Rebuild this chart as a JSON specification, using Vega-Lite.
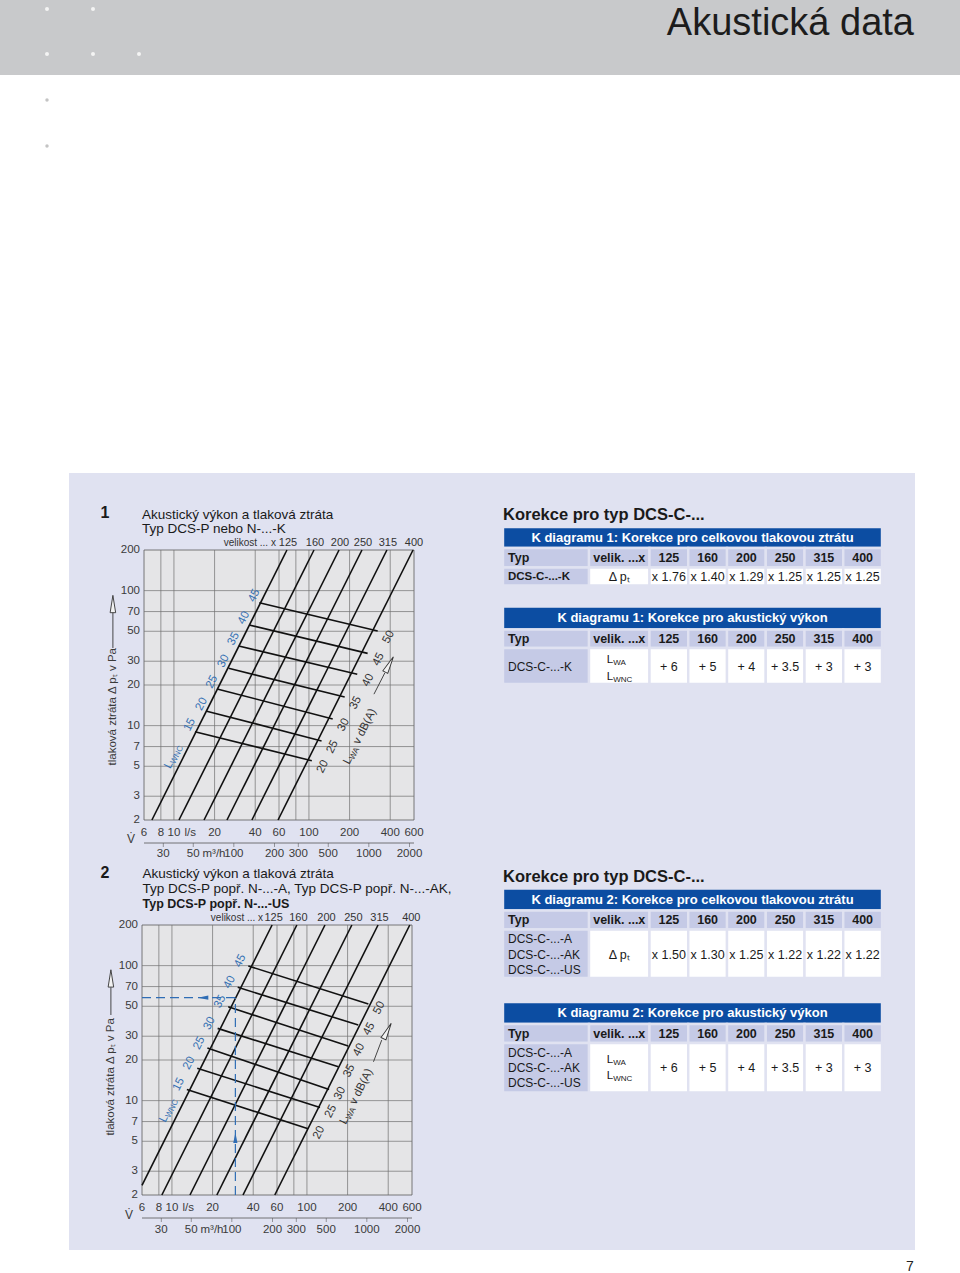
{
"$schema":"https://vega.github.io/schema/vega-lite/v6.json",
"width":960,"height":1273,"padding":0,"autosize":{"type":"none"},
"background":"#ffffff",
"config":{"font":"Liberation Sans","view":{"stroke":null}},
"datasets":{
"grid_v":[{"V":8},{"V":10},{"V":20},{"V":40},{"V":60},{"V":80},{"V":100},{"V":200},{"V":400}],
"grid_h":[{"p":3},{"p":5},{"p":7},{"p":10},{"p":20},{"p":30},{"p":50},{"p":70},{"p":100}],
"yt":[{"p":2},{"p":3},{"p":5},{"p":7},{"p":10},{"p":20},{"p":30},{"p":50},{"p":70},{"p":100},{"p":200}],
"xt1":[{"V":6},{"V":8},{"V":10},{"V":20},{"V":40},{"V":60},{"V":100},{"V":200},{"V":400},{"V":600}],
"xt2":[{"m3h":30,"V":8.333},{"m3h":50,"V":13.89},{"m3h":100,"V":27.78},{"m3h":200,"V":55.56},{"m3h":300,"V":83.33},{"m3h":500,"V":138.9},{"m3h":1000,"V":277.8},{"m3h":2000,"V":555.6}],
"n1_size":[{"size":125,"V":6.87,"p":2},{"size":125,"V":68.7,"p":200},{"size":160,"V":10.9,"p":2},{"size":160,"V":109,"p":200},{"size":200,"V":16.7,"p":2},{"size":200,"V":167,"p":200},{"size":250,"V":24.7,"p":2},{"size":250,"V":247,"p":200},{"size":315,"V":37.8,"p":2},{"size":315,"V":378,"p":200},{"size":400,"V":59,"p":2},{"size":400,"V":590,"p":200}],
"n2_size":[{"size":125,"V":6,"p":2.36},{"size":125,"V":55.2,"p":200},{"size":160,"V":8.42,"p":2},{"size":160,"V":84.2,"p":200},{"size":200,"V":13.6,"p":2},{"size":200,"V":136,"p":200},{"size":250,"V":21.5,"p":2},{"size":250,"V":215,"p":200},{"size":315,"V":33.6,"p":2},{"size":315,"V":336,"p":200},{"size":400,"V":57.8,"p":2},{"size":400,"V":578,"p":200}],
"n1_lwa":[{"L":45,"end":"L","lab":"45","V":42.9,"p":81.4},{"L":45,"end":"R","lab":"50","V":323,"p":50.2},{"L":40,"end":"L","lab":"40","V":36.0,"p":55.7},{"L":40,"end":"R","lab":"45","V":272,"p":34.3},{"L":35,"end":"L","lab":"35","V":30.2,"p":38.9},{"L":35,"end":"R","lab":"40","V":228,"p":24.0},{"L":30,"end":"L","lab":"30","V":25.4,"p":26.6},{"L":30,"end":"R","lab":"35","V":184,"p":16.3},{"L":25,"end":"L","lab":"25","V":20.9,"p":18.7},{"L":25,"end":"R","lab":"30","V":150,"p":11.2},{"L":20,"end":"L","lab":"20","V":17.5,"p":12.8},{"L":20,"end":"R","lab":"25","V":124,"p":7.7},{"L":15,"end":"L","lab":"15","V":14.3,"p":9.0},{"L":15,"end":"R","lab":"20","V":105,"p":5.5}],
"n2_lwa":[{"L":45,"end":"L","lab":"45","V":36.8,"p":99.4},{"L":45,"end":"R","lab":"50","V":285,"p":52.0},{"L":40,"end":"L","lab":"40","V":30.7,"p":69.1},{"L":40,"end":"R","lab":"45","V":240,"p":36.3},{"L":35,"end":"L","lab":"35","V":26.1,"p":49.6},{"L":35,"end":"R","lab":"40","V":202,"p":25.4},{"L":30,"end":"L","lab":"30","V":21.8,"p":34.3},{"L":30,"end":"R","lab":"35","V":171,"p":17.8},{"L":25,"end":"L","lab":"25","V":18.3,"p":24.5},{"L":25,"end":"R","lab":"30","V":146,"p":12.1},{"L":20,"end":"L","lab":"20","V":15.4,"p":17.4},{"L":20,"end":"R","lab":"25","V":125,"p":8.9},{"L":15,"end":"L","lab":"15","V":12.9,"p":12.1},{"L":15,"end":"R","lab":"20","V":102,"p":6.2}],
"n2_ex":[{"seg":"h","V":6,"p":57.9},{"seg":"h","V":29.5,"p":57.9},{"seg":"v","V":29.5,"p":2},{"seg":"v","V":29.5,"p":57.9}],
"titles":[{"id":"n1_num","text":"1"},{"id":"n1_l1","text":"Akustický výkon a tlaková ztráta"},{"id":"n1_l2","text":"Typ DCS-P nebo N-...-K"},{"id":"n2_num","text":"2"},{"id":"n2_l1","text":"Akustický výkon a tlaková ztráta"},{"id":"n2_l2","text":"Typ DCS-P popř. N-...-A, Typ DCS-P popř. N-...-AK,"},{"id":"n2_l3","text":"Typ DCS-P popř. N-...-US"},{"id":"velik","text":"velikost ... x"},{"id":"ls","text":"l/s"},{"id":"m3h","text":"m³/h"},{"id":"vdot","text":"V\u0307"},{"id":"ytitle","text":"tlaková ztráta Δ p\u209c v Pa"},{"id":"L","text":"L"},{"id":"WNC","text":"WNC"},{"id":"WA","text":"WA"},{"id":"vdba","text":"v dB(A)"},{"id":"page","text":"Akustická data"},{"id":"pnum","text":"7"}],
"cells":[
{"r0":0,"r1":1,"c0":0,"c1":8,"k":"head"},
{"r0":1,"r1":2,"c0":0,"c1":1,"k":"sub"},{"r0":1,"r1":2,"c0":1,"c1":2,"k":"sub"},{"r0":1,"r1":2,"c0":2,"c1":3,"k":"sub"},{"r0":1,"r1":2,"c0":3,"c1":4,"k":"sub"},{"r0":1,"r1":2,"c0":4,"c1":5,"k":"sub"},{"r0":1,"r1":2,"c0":5,"c1":6,"k":"sub"},{"r0":1,"r1":2,"c0":6,"c1":7,"k":"sub"},{"r0":1,"r1":2,"c0":7,"c1":8,"k":"sub"},
{"r0":2,"r1":3,"c0":0,"c1":1,"k":"sub"},{"r0":2,"r1":3,"c0":1,"c1":2,"k":"cell"},{"r0":2,"r1":3,"c0":2,"c1":3,"k":"cell"},{"r0":2,"r1":3,"c0":3,"c1":4,"k":"cell"},{"r0":2,"r1":3,"c0":4,"c1":5,"k":"cell"},{"r0":2,"r1":3,"c0":5,"c1":6,"k":"cell"},{"r0":2,"r1":3,"c0":6,"c1":7,"k":"cell"},{"r0":2,"r1":3,"c0":7,"c1":8,"k":"cell"},
{"r0":10,"r1":11,"c0":0,"c1":8,"k":"head"},
{"r0":11,"r1":12,"c0":0,"c1":1,"k":"sub"},{"r0":11,"r1":12,"c0":1,"c1":2,"k":"sub"},{"r0":11,"r1":12,"c0":2,"c1":3,"k":"sub"},{"r0":11,"r1":12,"c0":3,"c1":4,"k":"sub"},{"r0":11,"r1":12,"c0":4,"c1":5,"k":"sub"},{"r0":11,"r1":12,"c0":5,"c1":6,"k":"sub"},{"r0":11,"r1":12,"c0":6,"c1":7,"k":"sub"},{"r0":11,"r1":12,"c0":7,"c1":8,"k":"sub"},
{"r0":12,"r1":13,"c0":0,"c1":1,"k":"sub"},{"r0":12,"r1":13,"c0":1,"c1":2,"k":"cell"},{"r0":12,"r1":13,"c0":2,"c1":3,"k":"cell"},{"r0":12,"r1":13,"c0":3,"c1":4,"k":"cell"},{"r0":12,"r1":13,"c0":4,"c1":5,"k":"cell"},{"r0":12,"r1":13,"c0":5,"c1":6,"k":"cell"},{"r0":12,"r1":13,"c0":6,"c1":7,"k":"cell"},{"r0":12,"r1":13,"c0":7,"c1":8,"k":"cell"},
{"r0":20,"r1":21,"c0":0,"c1":8,"k":"head"},
{"r0":21,"r1":22,"c0":0,"c1":1,"k":"sub"},{"r0":21,"r1":22,"c0":1,"c1":2,"k":"sub"},{"r0":21,"r1":22,"c0":2,"c1":3,"k":"sub"},{"r0":21,"r1":22,"c0":3,"c1":4,"k":"sub"},{"r0":21,"r1":22,"c0":4,"c1":5,"k":"sub"},{"r0":21,"r1":22,"c0":5,"c1":6,"k":"sub"},{"r0":21,"r1":22,"c0":6,"c1":7,"k":"sub"},{"r0":21,"r1":22,"c0":7,"c1":8,"k":"sub"},
{"r0":22,"r1":23,"c0":0,"c1":1,"k":"sub"},{"r0":22,"r1":23,"c0":1,"c1":2,"k":"cell"},{"r0":22,"r1":23,"c0":2,"c1":3,"k":"cell"},{"r0":22,"r1":23,"c0":3,"c1":4,"k":"cell"},{"r0":22,"r1":23,"c0":4,"c1":5,"k":"cell"},{"r0":22,"r1":23,"c0":5,"c1":6,"k":"cell"},{"r0":22,"r1":23,"c0":6,"c1":7,"k":"cell"},{"r0":22,"r1":23,"c0":7,"c1":8,"k":"cell"},
{"r0":30,"r1":31,"c0":0,"c1":8,"k":"head"},
{"r0":31,"r1":32,"c0":0,"c1":1,"k":"sub"},{"r0":31,"r1":32,"c0":1,"c1":2,"k":"sub"},{"r0":31,"r1":32,"c0":2,"c1":3,"k":"sub"},{"r0":31,"r1":32,"c0":3,"c1":4,"k":"sub"},{"r0":31,"r1":32,"c0":4,"c1":5,"k":"sub"},{"r0":31,"r1":32,"c0":5,"c1":6,"k":"sub"},{"r0":31,"r1":32,"c0":6,"c1":7,"k":"sub"},{"r0":31,"r1":32,"c0":7,"c1":8,"k":"sub"},
{"r0":32,"r1":33,"c0":0,"c1":1,"k":"sub"},{"r0":32,"r1":33,"c0":1,"c1":2,"k":"cell"},{"r0":32,"r1":33,"c0":2,"c1":3,"k":"cell"},{"r0":32,"r1":33,"c0":3,"c1":4,"k":"cell"},{"r0":32,"r1":33,"c0":4,"c1":5,"k":"cell"},{"r0":32,"r1":33,"c0":5,"c1":6,"k":"cell"},{"r0":32,"r1":33,"c0":6,"c1":7,"k":"cell"},{"r0":32,"r1":33,"c0":7,"c1":8,"k":"cell"}],
"tbl_head":[{"r":0.5,"text":"K diagramu 1: Korekce pro celkovou tlakovou ztrátu"},{"r":10.5,"text":"K diagramu 1: Korekce pro akustický výkon"},{"r":20.5,"text":"K diagramu 2: Korekce pro celkovou tlakovou ztrátu"},{"r":30.5,"text":"K diagramu 2: Korekce pro akustický výkon"}],
"tbl_title":[{"r":-1,"text":"Korekce pro typ DCS-C-..."},{"r":19,"text":"Korekce pro typ DCS-C-..."}],
"typ_left":[{"r":1.5,"text":"Typ"},{"r":11.5,"text":"Typ"},{"r":21.5,"text":"Typ"},{"r":31.5,"text":"Typ"}],
"typ_center":[
{"r":1.5,"c":1.5,"text":"velik. ...x"},{"r":1.5,"c":2.5,"text":"125"},{"r":1.5,"c":3.5,"text":"160"},{"r":1.5,"c":4.5,"text":"200"},{"r":1.5,"c":5.5,"text":"250"},{"r":1.5,"c":6.5,"text":"315"},{"r":1.5,"c":7.5,"text":"400"},
{"r":11.5,"c":1.5,"text":"velik. ...x"},{"r":11.5,"c":2.5,"text":"125"},{"r":11.5,"c":3.5,"text":"160"},{"r":11.5,"c":4.5,"text":"200"},{"r":11.5,"c":5.5,"text":"250"},{"r":11.5,"c":6.5,"text":"315"},{"r":11.5,"c":7.5,"text":"400"},
{"r":21.5,"c":1.5,"text":"velik. ...x"},{"r":21.5,"c":2.5,"text":"125"},{"r":21.5,"c":3.5,"text":"160"},{"r":21.5,"c":4.5,"text":"200"},{"r":21.5,"c":5.5,"text":"250"},{"r":21.5,"c":6.5,"text":"315"},{"r":21.5,"c":7.5,"text":"400"},
{"r":31.5,"c":1.5,"text":"velik. ...x"},{"r":31.5,"c":2.5,"text":"125"},{"r":31.5,"c":3.5,"text":"160"},{"r":31.5,"c":4.5,"text":"200"},{"r":31.5,"c":5.5,"text":"250"},{"r":31.5,"c":6.5,"text":"315"},{"r":31.5,"c":7.5,"text":"400"}],
"left_bold":[{"r":2.5,"text":"DCS-C-...-K"}],
"left_reg":[{"r":12.52,"text":"DCS-C-...-K"},{"r":22.2,"text":"DCS-C-...-A"},{"r":22.52,"text":"DCS-C-...-AK"},{"r":22.83,"text":"DCS-C-...-US"},{"r":32.2,"text":"DCS-C-...-A"},{"r":32.51,"text":"DCS-C-...-AK"},{"r":32.8,"text":"DCS-C-...-US"}],
"center_vals":[
{"r":2.5,"c":1.5,"text":"Δ p\u209c"},{"r":2.5,"c":2.5,"text":"x 1.76"},{"r":2.5,"c":3.5,"text":"x 1.40"},{"r":2.5,"c":4.5,"text":"x 1.29"},{"r":2.5,"c":5.5,"text":"x 1.25"},{"r":2.5,"c":6.5,"text":"x 1.25"},{"r":2.5,"c":7.5,"text":"x 1.25"},
{"r":12.52,"c":2.5,"text":"+ 6"},{"r":12.52,"c":3.5,"text":"+ 5"},{"r":12.52,"c":4.5,"text":"+ 4"},{"r":12.52,"c":5.5,"text":"+ 3.5"},{"r":12.52,"c":6.5,"text":"+ 3"},{"r":12.52,"c":7.5,"text":"+ 3"},
{"r":22.52,"c":1.5,"text":"Δ p\u209c"},{"r":22.52,"c":2.5,"text":"x 1.50"},{"r":22.52,"c":3.5,"text":"x 1.30"},{"r":22.52,"c":4.5,"text":"x 1.25"},{"r":22.52,"c":5.5,"text":"x 1.22"},{"r":22.52,"c":6.5,"text":"x 1.22"},{"r":22.52,"c":7.5,"text":"x 1.22"},
{"r":32.51,"c":2.5,"text":"+ 6"},{"r":32.51,"c":3.5,"text":"+ 5"},{"r":32.51,"c":4.5,"text":"+ 4"},{"r":32.51,"c":5.5,"text":"+ 3.5"},{"r":32.51,"c":6.5,"text":"+ 3"},{"r":32.51,"c":7.5,"text":"+ 3"}],
"lsub":[{"r":12.33,"sub":"WA"},{"r":12.8,"sub":"WNC"},{"r":32.34,"sub":"WA"},{"r":32.66,"sub":"WNC"}]
},
"resolve":{"scale":{"x":"independent","y":"independent"}},
"layer":[
{"data":{"values":[{}]},"layer":[
{"mark":{"type":"rect","fill":"#c8c9cb"},"encoding":{"x":{"value":0},"x2":{"value":960},"y":{"value":0},"y2":{"value":75}}},
{"mark":{"type":"rect","fill":"#e0e2f1"},"encoding":{"x":{"value":69},"x2":{"value":915},"y":{"value":473},"y2":{"value":1250}}},
{"mark":{"type":"point","filled":true,"color":"#f4f4f4","size":16,"opacity":1},"encoding":{"x":{"value":47},"y":{"value":9}}},
{"mark":{"type":"point","filled":true,"color":"#f4f4f4","size":16,"opacity":1},"encoding":{"x":{"value":93},"y":{"value":9}}},
{"mark":{"type":"point","filled":true,"color":"#f4f4f4","size":16,"opacity":1},"encoding":{"x":{"value":47},"y":{"value":54}}},
{"mark":{"type":"point","filled":true,"color":"#f4f4f4","size":16,"opacity":1},"encoding":{"x":{"value":93},"y":{"value":54}}},
{"mark":{"type":"point","filled":true,"color":"#f4f4f4","size":16,"opacity":1},"encoding":{"x":{"value":139},"y":{"value":54}}},
{"mark":{"type":"point","filled":true,"color":"#c4c4c4","size":12,"opacity":1},"encoding":{"x":{"value":47},"y":{"value":100}}},
{"mark":{"type":"point","filled":true,"color":"#c4c4c4","size":12,"opacity":1},"encoding":{"x":{"value":47},"y":{"value":146}}}
]},
{"data":{"name":"titles"},"transform":[{"filter":"datum.id == 'page'"}],"mark":{"type":"text","fontSize":38,"color":"#1c1c1c","align":"right","baseline":"alphabetic"},"encoding":{"x":{"value":914},"y":{"value":35},"text":{"field":"text"}}},
{"data":{"name":"titles"},"transform":[{"filter":"datum.id == 'pnum'"}],"mark":{"type":"text","fontSize":14,"color":"#222222","baseline":"alphabetic"},"encoding":{"x":{"value":910},"y":{"value":1271},"text":{"field":"text"}}},
{"layer":[
{"data":{"values":[{}]},"mark":{"type":"rect","fill":"#e5e5e7","stroke":"#5c5c5c","strokeWidth":0.8},"encoding":{"x":{"datum":6,"type":"quantitative","scale":{"type":"log","domain":[6,600],"range":[144,414],"nice":false},"axis":null},"x2":{"datum":600},"y":{"datum":2,"type":"quantitative","scale":{"type":"log","domain":[2,200],"range":[820,550],"nice":false},"axis":null},"y2":{"datum":200}}},
{"data":{"name":"grid_v"},"mark":{"type":"rule","color":"#707070","strokeWidth":0.7},"encoding":{"x":{"field":"V","type":"quantitative","scale":{"type":"log","domain":[6,600],"range":[144,414],"nice":false},"axis":null},"y":{"datum":2,"type":"quantitative","scale":{"type":"log","domain":[2,200],"range":[820,550],"nice":false},"axis":null},"y2":{"datum":200}}},
{"data":{"name":"grid_h"},"mark":{"type":"rule","color":"#707070","strokeWidth":0.7},"encoding":{"y":{"field":"p","type":"quantitative","scale":{"type":"log","domain":[2,200],"range":[820,550],"nice":false},"axis":null},"x":{"datum":6,"type":"quantitative","scale":{"type":"log","domain":[6,600],"range":[144,414],"nice":false},"axis":null},"x2":{"datum":600}}},
{"data":{"name":"n1_size"},"mark":{"type":"line","color":"#111111","strokeWidth":1.6},"encoding":{"x":{"field":"V","type":"quantitative","scale":{"type":"log","domain":[6,600],"range":[144,414],"nice":false},"axis":null},"y":{"field":"p","type":"quantitative","scale":{"type":"log","domain":[2,200],"range":[820,550],"nice":false},"axis":null},"detail":{"field":"size","type":"nominal"}}},
{"data":{"name":"n1_lwa"},"mark":{"type":"line","color":"#111111","strokeWidth":1.6},"encoding":{"x":{"field":"V","type":"quantitative","scale":{"type":"log","domain":[6,600],"range":[144,414],"nice":false},"axis":null},"y":{"field":"p","type":"quantitative","scale":{"type":"log","domain":[2,200],"range":[820,550],"nice":false},"axis":null},"detail":{"field":"L","type":"nominal"}}},
{"data":{"name":"n1_size"},"transform":[{"filter":"datum.p == 200"}],"mark":{"type":"text","fontSize":11,"color":"#333333","yOffset":-7,"xOffset":1},"encoding":{"x":{"field":"V","type":"quantitative","scale":{"type":"log","domain":[6,600],"range":[144,414],"nice":false},"axis":null},"y":{"field":"p","type":"quantitative","scale":{"type":"log","domain":[2,200],"range":[820,550],"nice":false},"axis":null},"text":{"field":"size","type":"nominal"}}},
{"data":{"name":"titles"},"transform":[{"filter":"datum.id == 'velik'"}],"mark":{"type":"text","fontSize":10,"color":"#333333","align":"right","xOffset":-11,"yOffset":-7},"encoding":{"x":{"datum":68.7,"type":"quantitative","scale":{"type":"log","domain":[6,600],"range":[144,414],"nice":false},"axis":null},"y":{"datum":200,"type":"quantitative","scale":{"type":"log","domain":[2,200],"range":[820,550],"nice":false},"axis":null},"text":{"field":"text"}}},
{"data":{"name":"n1_lwa"},"transform":[{"filter":"datum.end == 'L'"}],"mark":{"type":"text","fontSize":11.5,"color":"#3470b3","angle":296.6,"xOffset":-5,"yOffset":-7},"encoding":{"x":{"field":"V","type":"quantitative","scale":{"type":"log","domain":[6,600],"range":[144,414],"nice":false},"axis":null},"y":{"field":"p","type":"quantitative","scale":{"type":"log","domain":[2,200],"range":[820,550],"nice":false},"axis":null},"text":{"field":"lab"}}},
{"data":{"name":"n1_lwa"},"transform":[{"filter":"datum.end == 'R'"}],"mark":{"type":"text","fontSize":11.5,"color":"#333333","angle":296.6,"xOffset":11,"yOffset":6},"encoding":{"x":{"field":"V","type":"quantitative","scale":{"type":"log","domain":[6,600],"range":[144,414],"nice":false},"axis":null},"y":{"field":"p","type":"quantitative","scale":{"type":"log","domain":[2,200],"range":[820,550],"nice":false},"axis":null},"text":{"field":"lab"}}},
{"data":{"name":"titles"},"transform":[{"filter":"datum.id == 'L'"}],"mark":{"type":"text","fontSize":11.5,"color":"#3470b3","angle":296.6,"align":"left","dx":-12.8},"encoding":{"x":{"datum":9.87,"type":"quantitative","scale":{"type":"log","domain":[6,600],"range":[144,414],"nice":false},"axis":null},"y":{"datum":5.9,"type":"quantitative","scale":{"type":"log","domain":[2,200],"range":[820,550],"nice":false},"axis":null},"text":{"field":"text"}}},
{"data":{"name":"titles"},"transform":[{"filter":"datum.id == 'WNC'"}],"mark":{"type":"text","fontSize":8,"color":"#3470b3","angle":296.6,"align":"left","dx":-6.4,"dy":3},"encoding":{"x":{"datum":9.87,"type":"quantitative","scale":{"type":"log","domain":[6,600],"range":[144,414],"nice":false},"axis":null},"y":{"datum":5.9,"type":"quantitative","scale":{"type":"log","domain":[2,200],"range":[820,550],"nice":false},"axis":null},"text":{"field":"text"}}},
{"data":{"name":"titles"},"transform":[{"filter":"datum.id == 'L'"}],"mark":{"type":"text","fontSize":11.5,"color":"#333333","angle":296.6,"align":"left","dx":-30.3},"encoding":{"x":{"datum":239,"type":"quantitative","scale":{"type":"log","domain":[6,600],"range":[144,414],"nice":false},"axis":null},"y":{"datum":8.3,"type":"quantitative","scale":{"type":"log","domain":[2,200],"range":[820,550],"nice":false},"axis":null},"text":{"field":"text"}}},
{"data":{"name":"titles"},"transform":[{"filter":"datum.id == 'WA'"}],"mark":{"type":"text","fontSize":8,"color":"#333333","angle":296.6,"align":"left","dx":-23.9,"dy":3},"encoding":{"x":{"datum":239,"type":"quantitative","scale":{"type":"log","domain":[6,600],"range":[144,414],"nice":false},"axis":null},"y":{"datum":8.3,"type":"quantitative","scale":{"type":"log","domain":[2,200],"range":[820,550],"nice":false},"axis":null},"text":{"field":"text"}}},
{"data":{"name":"titles"},"transform":[{"filter":"datum.id == 'vdba'"}],"mark":{"type":"text","fontSize":11.5,"color":"#333333","angle":296.6,"align":"left","dx":-8},"encoding":{"x":{"datum":239,"type":"quantitative","scale":{"type":"log","domain":[6,600],"range":[144,414],"nice":false},"axis":null},"y":{"datum":8.3,"type":"quantitative","scale":{"type":"log","domain":[2,200],"range":[820,550],"nice":false},"axis":null},"text":{"field":"text"}}},
{"data":{"values":[{}]},"mark":{"type":"rule","color":"#333333","strokeWidth":0.9},"encoding":{"x":{"datum":303,"type":"quantitative","scale":{"type":"log","domain":[6,600],"range":[144,414],"nice":false},"axis":null},"x2":{"datum":365},"y":{"datum":17.1,"type":"quantitative","scale":{"type":"log","domain":[2,200],"range":[820,550],"nice":false},"axis":null},"y2":{"datum":24.6}}},
{"data":{"values":[{}]},"mark":{"type":"point","shape":"M0,-1L0.32,1L-0.32,1Z","size":300,"filled":true,"fill":"#f2f2f2","stroke":"#333333","strokeWidth":0.9,"opacity":1,"angle":27.8},"encoding":{"x":{"datum":394,"type":"quantitative","scale":{"type":"log","domain":[6,600],"range":[144,414],"nice":false},"axis":null},"y":{"datum":28.4,"type":"quantitative","scale":{"type":"log","domain":[2,200],"range":[820,550],"nice":false},"axis":null}}},
{"data":{"name":"yt"},"mark":{"type":"text","fontSize":11.5,"color":"#3a3a3a","align":"right","xOffset":-4},"encoding":{"x":{"datum":6,"type":"quantitative","scale":{"type":"log","domain":[6,600],"range":[144,414],"nice":false},"axis":null},"y":{"field":"p","type":"quantitative","scale":{"type":"log","domain":[2,200],"range":[820,550],"nice":false},"axis":null},"text":{"field":"p","type":"quantitative","format":"d"}}},
{"data":{"name":"xt1"},"mark":{"type":"text","fontSize":11.5,"color":"#3a3a3a","yOffset":13},"encoding":{"x":{"field":"V","type":"quantitative","scale":{"type":"log","domain":[6,600],"range":[144,414],"nice":false},"axis":null},"y":{"datum":2,"type":"quantitative","scale":{"type":"log","domain":[2,200],"range":[820,550],"nice":false},"axis":null},"text":{"field":"V","type":"quantitative","format":"d"}}},
{"data":{"name":"titles"},"transform":[{"filter":"datum.id == 'ls'"}],"mark":{"type":"text","fontSize":11.5,"color":"#3a3a3a","yOffset":13},"encoding":{"x":{"datum":13.2,"type":"quantitative","scale":{"type":"log","domain":[6,600],"range":[144,414],"nice":false},"axis":null},"y":{"datum":2,"type":"quantitative","scale":{"type":"log","domain":[2,200],"range":[820,550],"nice":false},"axis":null},"text":{"field":"text"}}},
{"data":{"name":"titles"},"transform":[{"filter":"datum.id == 'vdot'"}],"mark":{"type":"text","fontSize":12,"color":"#3a3a3a","yOffset":19},"encoding":{"x":{"datum":4.8,"type":"quantitative","scale":{"type":"log","domain":[6,600],"range":[144,414],"nice":false},"axis":null},"y":{"datum":2,"type":"quantitative","scale":{"type":"log","domain":[2,200],"range":[820,550],"nice":false},"axis":null},"text":{"field":"text"}}},
{"data":{"values":[{}]},"mark":{"type":"rule","color":"#555555","strokeWidth":0.8,"yOffset":23},"encoding":{"x":{"datum":6,"type":"quantitative","scale":{"type":"log","domain":[6,600],"range":[144,414],"nice":false},"axis":null},"x2":{"datum":600},"y":{"datum":2,"type":"quantitative","scale":{"type":"log","domain":[2,200],"range":[820,550],"nice":false},"axis":null}}},
{"data":{"name":"xt2"},"mark":{"type":"tick","orient":"vertical","size":4,"thickness":0.8,"color":"#555555","yOffset":25},"encoding":{"x":{"field":"V","type":"quantitative","scale":{"type":"log","domain":[6,600],"range":[144,414],"nice":false},"axis":null},"y":{"datum":2,"type":"quantitative","scale":{"type":"log","domain":[2,200],"range":[820,550],"nice":false},"axis":null}}},
{"data":{"name":"xt2"},"mark":{"type":"text","fontSize":11.5,"color":"#3a3a3a","yOffset":34},"encoding":{"x":{"field":"V","type":"quantitative","scale":{"type":"log","domain":[6,600],"range":[144,414],"nice":false},"axis":null},"y":{"datum":2,"type":"quantitative","scale":{"type":"log","domain":[2,200],"range":[820,550],"nice":false},"axis":null},"text":{"field":"m3h","type":"quantitative","format":"d"}}},
{"data":{"name":"titles"},"transform":[{"filter":"datum.id == 'm3h'"}],"mark":{"type":"text","fontSize":11.5,"color":"#3a3a3a","yOffset":34},"encoding":{"x":{"datum":19.8,"type":"quantitative","scale":{"type":"log","domain":[6,600],"range":[144,414],"nice":false},"axis":null},"y":{"datum":2,"type":"quantitative","scale":{"type":"log","domain":[2,200],"range":[820,550],"nice":false},"axis":null},"text":{"field":"text"}}},
{"data":{"name":"titles"},"transform":[{"filter":"datum.id == 'ytitle'"}],"mark":{"type":"text","fontSize":11.5,"color":"#3a3a3a","angle":270},"encoding":{"x":{"datum":3.53,"type":"quantitative","scale":{"type":"log","domain":[6,600],"range":[144,414],"nice":false},"axis":null},"y":{"datum":13.8,"type":"quantitative","scale":{"type":"log","domain":[2,200],"range":[820,550],"nice":false},"axis":null},"text":{"field":"text"}}},
{"data":{"values":[{}]},"mark":{"type":"rule","color":"#333333","strokeWidth":0.9},"encoding":{"x":{"datum":3.53,"type":"quantitative","scale":{"type":"log","domain":[6,600],"range":[144,414],"nice":false},"axis":null},"y":{"datum":69.5,"type":"quantitative","scale":{"type":"log","domain":[2,200],"range":[820,550],"nice":false},"axis":null},"y2":{"datum":37.6}}},
{"data":{"values":[{}]},"mark":{"type":"point","shape":"M0,-1L0.32,1L-0.32,1Z","size":300,"filled":true,"fill":"#f2f2f2","stroke":"#333333","strokeWidth":0.9,"opacity":1},"encoding":{"x":{"datum":3.53,"type":"quantitative","scale":{"type":"log","domain":[6,600],"range":[144,414],"nice":false},"axis":null},"y":{"datum":79.6,"type":"quantitative","scale":{"type":"log","domain":[2,200],"range":[820,550],"nice":false},"axis":null}}},
{"data":{"name":"titles"},"transform":[{"filter":"datum.id == 'n1_num'"}],"mark":{"type":"text","fontSize":16,"fontWeight":"bold","color":"#1a1a1a","baseline":"alphabetic","xOffset":-39,"yOffset":-31.7},"encoding":{"x":{"datum":6,"type":"quantitative","scale":{"type":"log","domain":[6,600],"range":[144,414],"nice":false},"axis":null},"y":{"datum":200,"type":"quantitative","scale":{"type":"log","domain":[2,200],"range":[820,550],"nice":false},"axis":null},"text":{"field":"text"}}},
{"data":{"name":"titles"},"transform":[{"filter":"datum.id == 'n1_l1'"}],"mark":{"type":"text","fontSize":13.5,"color":"#1a1a1a","baseline":"alphabetic","align":"left","xOffset":-2,"yOffset":-31.5},"encoding":{"x":{"datum":6,"type":"quantitative","scale":{"type":"log","domain":[6,600],"range":[144,414],"nice":false},"axis":null},"y":{"datum":200,"type":"quantitative","scale":{"type":"log","domain":[2,200],"range":[820,550],"nice":false},"axis":null},"text":{"field":"text"}}},
{"data":{"name":"titles"},"transform":[{"filter":"datum.id == 'n1_l2'"}],"mark":{"type":"text","fontSize":13.5,"color":"#1a1a1a","baseline":"alphabetic","align":"left","xOffset":-2,"yOffset":-17.3},"encoding":{"x":{"datum":6,"type":"quantitative","scale":{"type":"log","domain":[6,600],"range":[144,414],"nice":false},"axis":null},"y":{"datum":200,"type":"quantitative","scale":{"type":"log","domain":[2,200],"range":[820,550],"nice":false},"axis":null},"text":{"field":"text"}}}
]},
{"layer":[
{"data":{"values":[{}]},"mark":{"type":"rect","fill":"#e5e5e7","stroke":"#5c5c5c","strokeWidth":0.8},"encoding":{"x":{"datum":6,"type":"quantitative","scale":{"type":"log","domain":[6,600],"range":[142,412],"nice":false},"axis":null},"x2":{"datum":600},"y":{"datum":2,"type":"quantitative","scale":{"type":"log","domain":[2,200],"range":[1195,925],"nice":false},"axis":null},"y2":{"datum":200}}},
{"data":{"name":"grid_v"},"mark":{"type":"rule","color":"#707070","strokeWidth":0.7},"encoding":{"x":{"field":"V","type":"quantitative","scale":{"type":"log","domain":[6,600],"range":[142,412],"nice":false},"axis":null},"y":{"datum":2,"type":"quantitative","scale":{"type":"log","domain":[2,200],"range":[1195,925],"nice":false},"axis":null},"y2":{"datum":200}}},
{"data":{"name":"grid_h"},"mark":{"type":"rule","color":"#707070","strokeWidth":0.7},"encoding":{"y":{"field":"p","type":"quantitative","scale":{"type":"log","domain":[2,200],"range":[1195,925],"nice":false},"axis":null},"x":{"datum":6,"type":"quantitative","scale":{"type":"log","domain":[6,600],"range":[142,412],"nice":false},"axis":null},"x2":{"datum":600}}},
{"data":{"name":"n2_size"},"mark":{"type":"line","color":"#111111","strokeWidth":1.6},"encoding":{"x":{"field":"V","type":"quantitative","scale":{"type":"log","domain":[6,600],"range":[142,412],"nice":false},"axis":null},"y":{"field":"p","type":"quantitative","scale":{"type":"log","domain":[2,200],"range":[1195,925],"nice":false},"axis":null},"detail":{"field":"size","type":"nominal"}}},
{"data":{"name":"n2_lwa"},"mark":{"type":"line","color":"#111111","strokeWidth":1.6},"encoding":{"x":{"field":"V","type":"quantitative","scale":{"type":"log","domain":[6,600],"range":[142,412],"nice":false},"axis":null},"y":{"field":"p","type":"quantitative","scale":{"type":"log","domain":[2,200],"range":[1195,925],"nice":false},"axis":null},"detail":{"field":"L","type":"nominal"}}},
{"data":{"name":"n2_ex"},"mark":{"type":"line","color":"#2f6db5","strokeWidth":1.2,"strokeDash":[9,5]},"encoding":{"x":{"field":"V","type":"quantitative","scale":{"type":"log","domain":[6,600],"range":[142,412],"nice":false},"axis":null},"y":{"field":"p","type":"quantitative","scale":{"type":"log","domain":[2,200],"range":[1195,925],"nice":false},"axis":null},"detail":{"field":"seg","type":"nominal"}}},
{"data":{"values":[{}]},"mark":{"type":"point","shape":"M0,-1L0.4,1L-0.4,1Z","size":110,"filled":true,"color":"#2f6db5","opacity":1,"angle":270},"encoding":{"x":{"datum":17,"type":"quantitative","scale":{"type":"log","domain":[6,600],"range":[142,412],"nice":false},"axis":null},"y":{"datum":57.9,"type":"quantitative","scale":{"type":"log","domain":[2,200],"range":[1195,925],"nice":false},"axis":null}}},
{"data":{"values":[{}]},"mark":{"type":"point","shape":"M0,-1L0.4,1L-0.4,1Z","size":110,"filled":true,"color":"#2f6db5","opacity":1},"encoding":{"x":{"datum":29.5,"type":"quantitative","scale":{"type":"log","domain":[6,600],"range":[142,412],"nice":false},"axis":null},"y":{"datum":5.3,"type":"quantitative","scale":{"type":"log","domain":[2,200],"range":[1195,925],"nice":false},"axis":null}}},
{"data":{"name":"n2_size"},"transform":[{"filter":"datum.p == 200"}],"mark":{"type":"text","fontSize":11,"color":"#333333","yOffset":-7,"xOffset":1.5},"encoding":{"x":{"field":"V","type":"quantitative","scale":{"type":"log","domain":[6,600],"range":[142,412],"nice":false},"axis":null},"y":{"field":"p","type":"quantitative","scale":{"type":"log","domain":[2,200],"range":[1195,925],"nice":false},"axis":null},"text":{"field":"size","type":"nominal"}}},
{"data":{"name":"titles"},"transform":[{"filter":"datum.id == 'velik'"}],"mark":{"type":"text","fontSize":10,"color":"#333333","align":"right","xOffset":-9,"yOffset":-7},"encoding":{"x":{"datum":55.2,"type":"quantitative","scale":{"type":"log","domain":[6,600],"range":[142,412],"nice":false},"axis":null},"y":{"datum":200,"type":"quantitative","scale":{"type":"log","domain":[2,200],"range":[1195,925],"nice":false},"axis":null},"text":{"field":"text"}}},
{"data":{"name":"n2_lwa"},"transform":[{"filter":"datum.end == 'L'"}],"mark":{"type":"text","fontSize":11.5,"color":"#3470b3","angle":296.6,"xOffset":-8,"yOffset":-5},"encoding":{"x":{"field":"V","type":"quantitative","scale":{"type":"log","domain":[6,600],"range":[142,412],"nice":false},"axis":null},"y":{"field":"p","type":"quantitative","scale":{"type":"log","domain":[2,200],"range":[1195,925],"nice":false},"axis":null},"text":{"field":"lab"}}},
{"data":{"name":"n2_lwa"},"transform":[{"filter":"datum.end == 'R'"}],"mark":{"type":"text","fontSize":11.5,"color":"#333333","angle":296.6,"xOffset":11,"yOffset":4},"encoding":{"x":{"field":"V","type":"quantitative","scale":{"type":"log","domain":[6,600],"range":[142,412],"nice":false},"axis":null},"y":{"field":"p","type":"quantitative","scale":{"type":"log","domain":[2,200],"range":[1195,925],"nice":false},"axis":null},"text":{"field":"lab"}}},
{"data":{"name":"titles"},"transform":[{"filter":"datum.id == 'L'"}],"mark":{"type":"text","fontSize":11.5,"color":"#3470b3","angle":296.6,"align":"left","dx":-12.8},"encoding":{"x":{"datum":9.39,"type":"quantitative","scale":{"type":"log","domain":[6,600],"range":[142,412],"nice":false},"axis":null},"y":{"datum":8.5,"type":"quantitative","scale":{"type":"log","domain":[2,200],"range":[1195,925],"nice":false},"axis":null},"text":{"field":"text"}}},
{"data":{"name":"titles"},"transform":[{"filter":"datum.id == 'WNC'"}],"mark":{"type":"text","fontSize":8,"color":"#3470b3","angle":296.6,"align":"left","dx":-6.4,"dy":3},"encoding":{"x":{"datum":9.39,"type":"quantitative","scale":{"type":"log","domain":[6,600],"range":[142,412],"nice":false},"axis":null},"y":{"datum":8.5,"type":"quantitative","scale":{"type":"log","domain":[2,200],"range":[1195,925],"nice":false},"axis":null},"text":{"field":"text"}}},
{"data":{"name":"titles"},"transform":[{"filter":"datum.id == 'L'"}],"mark":{"type":"text","fontSize":11.5,"color":"#333333","angle":296.6,"align":"left","dx":-30.3},"encoding":{"x":{"datum":233,"type":"quantitative","scale":{"type":"log","domain":[6,600],"range":[142,412],"nice":false},"axis":null},"y":{"datum":10.7,"type":"quantitative","scale":{"type":"log","domain":[2,200],"range":[1195,925],"nice":false},"axis":null},"text":{"field":"text"}}},
{"data":{"name":"titles"},"transform":[{"filter":"datum.id == 'WA'"}],"mark":{"type":"text","fontSize":8,"color":"#333333","angle":296.6,"align":"left","dx":-23.9,"dy":3},"encoding":{"x":{"datum":233,"type":"quantitative","scale":{"type":"log","domain":[6,600],"range":[142,412],"nice":false},"axis":null},"y":{"datum":10.7,"type":"quantitative","scale":{"type":"log","domain":[2,200],"range":[1195,925],"nice":false},"axis":null},"text":{"field":"text"}}},
{"data":{"name":"titles"},"transform":[{"filter":"datum.id == 'vdba'"}],"mark":{"type":"text","fontSize":11.5,"color":"#333333","angle":296.6,"align":"left","dx":-8},"encoding":{"x":{"datum":233,"type":"quantitative","scale":{"type":"log","domain":[6,600],"range":[142,412],"nice":false},"axis":null},"y":{"datum":10.7,"type":"quantitative","scale":{"type":"log","domain":[2,200],"range":[1195,925],"nice":false},"axis":null},"text":{"field":"text"}}},
{"data":{"values":[{}]},"mark":{"type":"rule","color":"#333333","strokeWidth":0.9},"encoding":{"x":{"datum":311,"type":"quantitative","scale":{"type":"log","domain":[6,600],"range":[142,412],"nice":false},"axis":null},"x2":{"datum":358},"y":{"datum":19.4,"type":"quantitative","scale":{"type":"log","domain":[2,200],"range":[1195,925],"nice":false},"axis":null},"y2":{"datum":28.1}}},
{"data":{"values":[{}]},"mark":{"type":"point","shape":"M0,-1L0.32,1L-0.32,1Z","size":300,"filled":true,"fill":"#f2f2f2","stroke":"#333333","strokeWidth":0.9,"opacity":1,"angle":26.6},"encoding":{"x":{"datum":394,"type":"quantitative","scale":{"type":"log","domain":[6,600],"range":[142,412],"nice":false},"axis":null},"y":{"datum":32.8,"type":"quantitative","scale":{"type":"log","domain":[2,200],"range":[1195,925],"nice":false},"axis":null}}},
{"data":{"name":"yt"},"mark":{"type":"text","fontSize":11.5,"color":"#3a3a3a","align":"right","xOffset":-4},"encoding":{"x":{"datum":6,"type":"quantitative","scale":{"type":"log","domain":[6,600],"range":[142,412],"nice":false},"axis":null},"y":{"field":"p","type":"quantitative","scale":{"type":"log","domain":[2,200],"range":[1195,925],"nice":false},"axis":null},"text":{"field":"p","type":"quantitative","format":"d"}}},
{"data":{"name":"xt1"},"mark":{"type":"text","fontSize":11.5,"color":"#3a3a3a","yOffset":13},"encoding":{"x":{"field":"V","type":"quantitative","scale":{"type":"log","domain":[6,600],"range":[142,412],"nice":false},"axis":null},"y":{"datum":2,"type":"quantitative","scale":{"type":"log","domain":[2,200],"range":[1195,925],"nice":false},"axis":null},"text":{"field":"V","type":"quantitative","format":"d"}}},
{"data":{"name":"titles"},"transform":[{"filter":"datum.id == 'ls'"}],"mark":{"type":"text","fontSize":11.5,"color":"#3a3a3a","yOffset":13},"encoding":{"x":{"datum":13.2,"type":"quantitative","scale":{"type":"log","domain":[6,600],"range":[142,412],"nice":false},"axis":null},"y":{"datum":2,"type":"quantitative","scale":{"type":"log","domain":[2,200],"range":[1195,925],"nice":false},"axis":null},"text":{"field":"text"}}},
{"data":{"name":"titles"},"transform":[{"filter":"datum.id == 'vdot'"}],"mark":{"type":"text","fontSize":12,"color":"#3a3a3a","yOffset":20},"encoding":{"x":{"datum":4.8,"type":"quantitative","scale":{"type":"log","domain":[6,600],"range":[142,412],"nice":false},"axis":null},"y":{"datum":2,"type":"quantitative","scale":{"type":"log","domain":[2,200],"range":[1195,925],"nice":false},"axis":null},"text":{"field":"text"}}},
{"data":{"values":[{}]},"mark":{"type":"rule","color":"#555555","strokeWidth":0.8,"yOffset":23},"encoding":{"x":{"datum":6,"type":"quantitative","scale":{"type":"log","domain":[6,600],"range":[142,412],"nice":false},"axis":null},"x2":{"datum":600},"y":{"datum":2,"type":"quantitative","scale":{"type":"log","domain":[2,200],"range":[1195,925],"nice":false},"axis":null}}},
{"data":{"name":"xt2"},"mark":{"type":"tick","orient":"vertical","size":4,"thickness":0.8,"color":"#555555","yOffset":25},"encoding":{"x":{"field":"V","type":"quantitative","scale":{"type":"log","domain":[6,600],"range":[142,412],"nice":false},"axis":null},"y":{"datum":2,"type":"quantitative","scale":{"type":"log","domain":[2,200],"range":[1195,925],"nice":false},"axis":null}}},
{"data":{"name":"xt2"},"mark":{"type":"text","fontSize":11.5,"color":"#3a3a3a","yOffset":35},"encoding":{"x":{"field":"V","type":"quantitative","scale":{"type":"log","domain":[6,600],"range":[142,412],"nice":false},"axis":null},"y":{"datum":2,"type":"quantitative","scale":{"type":"log","domain":[2,200],"range":[1195,925],"nice":false},"axis":null},"text":{"field":"m3h","type":"quantitative","format":"d"}}},
{"data":{"name":"titles"},"transform":[{"filter":"datum.id == 'm3h'"}],"mark":{"type":"text","fontSize":11.5,"color":"#3a3a3a","yOffset":35},"encoding":{"x":{"datum":19.8,"type":"quantitative","scale":{"type":"log","domain":[6,600],"range":[142,412],"nice":false},"axis":null},"y":{"datum":2,"type":"quantitative","scale":{"type":"log","domain":[2,200],"range":[1195,925],"nice":false},"axis":null},"text":{"field":"text"}}},
{"data":{"name":"titles"},"transform":[{"filter":"datum.id == 'ytitle'"}],"mark":{"type":"text","fontSize":11.5,"color":"#3a3a3a","angle":270},"encoding":{"x":{"datum":3.53,"type":"quantitative","scale":{"type":"log","domain":[6,600],"range":[142,412],"nice":false},"axis":null},"y":{"datum":15,"type":"quantitative","scale":{"type":"log","domain":[2,200],"range":[1195,925],"nice":false},"axis":null},"text":{"field":"text"}}},
{"data":{"values":[{}]},"mark":{"type":"rule","color":"#333333","strokeWidth":0.9},"encoding":{"x":{"datum":3.53,"type":"quantitative","scale":{"type":"log","domain":[6,600],"range":[142,412],"nice":false},"axis":null},"y":{"datum":69,"type":"quantitative","scale":{"type":"log","domain":[2,200],"range":[1195,925],"nice":false},"axis":null},"y2":{"datum":43.1}}},
{"data":{"values":[{}]},"mark":{"type":"point","shape":"M0,-1L0.32,1L-0.32,1Z","size":300,"filled":true,"fill":"#f2f2f2","stroke":"#333333","strokeWidth":0.9,"opacity":1},"encoding":{"x":{"datum":3.53,"type":"quantitative","scale":{"type":"log","domain":[6,600],"range":[142,412],"nice":false},"axis":null},"y":{"datum":80.4,"type":"quantitative","scale":{"type":"log","domain":[2,200],"range":[1195,925],"nice":false},"axis":null}}},
{"data":{"name":"titles"},"transform":[{"filter":"datum.id == 'n2_num'"}],"mark":{"type":"text","fontSize":16,"fontWeight":"bold","color":"#1a1a1a","baseline":"alphabetic","xOffset":-37,"yOffset":-46.7},"encoding":{"x":{"datum":6,"type":"quantitative","scale":{"type":"log","domain":[6,600],"range":[142,412],"nice":false},"axis":null},"y":{"datum":200,"type":"quantitative","scale":{"type":"log","domain":[2,200],"range":[1195,925],"nice":false},"axis":null},"text":{"field":"text"}}},
{"data":{"name":"titles"},"transform":[{"filter":"datum.id == 'n2_l1'"}],"mark":{"type":"text","fontSize":13.5,"color":"#1a1a1a","baseline":"alphabetic","align":"left","xOffset":0.5,"yOffset":-46.7},"encoding":{"x":{"datum":6,"type":"quantitative","scale":{"type":"log","domain":[6,600],"range":[142,412],"nice":false},"axis":null},"y":{"datum":200,"type":"quantitative","scale":{"type":"log","domain":[2,200],"range":[1195,925],"nice":false},"axis":null},"text":{"field":"text"}}},
{"data":{"name":"titles"},"transform":[{"filter":"datum.id == 'n2_l2'"}],"mark":{"type":"text","fontSize":13.5,"color":"#1a1a1a","baseline":"alphabetic","align":"left","xOffset":0.5,"yOffset":-32.3},"encoding":{"x":{"datum":6,"type":"quantitative","scale":{"type":"log","domain":[6,600],"range":[142,412],"nice":false},"axis":null},"y":{"datum":200,"type":"quantitative","scale":{"type":"log","domain":[2,200],"range":[1195,925],"nice":false},"axis":null},"text":{"field":"text"}}},
{"data":{"name":"titles"},"transform":[{"filter":"datum.id == 'n2_l3'"}],"mark":{"type":"text","fontSize":12.5,"fontWeight":"bold","color":"#1a1a1a","baseline":"alphabetic","align":"left","xOffset":0.5,"yOffset":-16.7},"encoding":{"x":{"datum":6,"type":"quantitative","scale":{"type":"log","domain":[6,600],"range":[142,412],"nice":false},"axis":null},"y":{"datum":200,"type":"quantitative","scale":{"type":"log","domain":[2,200],"range":[1195,925],"nice":false},"axis":null},"text":{"field":"text"}}}
]},
{"layer":[
{"data":{"name":"cells"},"mark":{"type":"rect","stroke":"#e0e2f1","strokeWidth":2.4},"encoding":{"x":{"field":"c0","type":"quantitative","scale":{"type":"linear","domain":[0,1,2,8],"range":[503,589,649.5,882],"nice":false,"zero":false},"axis":null},"x2":{"field":"c1"},"y":{"field":"r0","type":"quantitative","scale":{"type":"linear","domain":[-1,0,1,2,3,10,11,12,13,19,20,21,22,23,30,31,32,33],"range":[520,527,548,567.5,585.5,606.5,629.5,648,684,882,888.5,910.5,929.5,978,1002,1024,1043,1092.5],"nice":false,"zero":false},"axis":null},"y2":{"field":"r1"},"color":{"field":"k","type":"nominal","scale":{"domain":["head","sub","cell"],"range":["#0c4da2","#c5cae6","#ffffff"]},"legend":null}}},
{"data":{"name":"tbl_head"},"mark":{"type":"text","color":"#ffffff","fontWeight":"bold","fontSize":13},"encoding":{"x":{"datum":3.11,"type":"quantitative","scale":{"type":"linear","domain":[0,1,2,8],"range":[503,589,649.5,882],"nice":false,"zero":false},"axis":null},"y":{"field":"r","type":"quantitative","scale":{"type":"linear","domain":[-1,0,1,2,3,10,11,12,13,19,20,21,22,23,30,31,32,33],"range":[520,527,548,567.5,585.5,606.5,629.5,648,684,882,888.5,910.5,929.5,978,1002,1024,1043,1092.5],"nice":false,"zero":false},"axis":null},"text":{"field":"text"}}},
{"data":{"name":"tbl_title"},"mark":{"type":"text","color":"#1a1a1a","fontWeight":"bold","fontSize":16.5,"align":"left","baseline":"alphabetic"},"encoding":{"x":{"datum":0,"type":"quantitative","scale":{"type":"linear","domain":[0,1,2,8],"range":[503,589,649.5,882],"nice":false,"zero":false},"axis":null},"y":{"field":"r","type":"quantitative","scale":{"type":"linear","domain":[-1,0,1,2,3,10,11,12,13,19,20,21,22,23,30,31,32,33],"range":[520,527,548,567.5,585.5,606.5,629.5,648,684,882,888.5,910.5,929.5,978,1002,1024,1043,1092.5],"nice":false,"zero":false},"axis":null},"text":{"field":"text"}}},
{"data":{"name":"typ_left"},"mark":{"type":"text","color":"#1a1a1a","fontWeight":"bold","fontSize":12.5,"align":"left","dx":5},"encoding":{"x":{"datum":0,"type":"quantitative","scale":{"type":"linear","domain":[0,1,2,8],"range":[503,589,649.5,882],"nice":false,"zero":false},"axis":null},"y":{"field":"r","type":"quantitative","scale":{"type":"linear","domain":[-1,0,1,2,3,10,11,12,13,19,20,21,22,23,30,31,32,33],"range":[520,527,548,567.5,585.5,606.5,629.5,648,684,882,888.5,910.5,929.5,978,1002,1024,1043,1092.5],"nice":false,"zero":false},"axis":null},"text":{"field":"text"}}},
{"data":{"name":"typ_center"},"mark":{"type":"text","color":"#1a1a1a","fontWeight":"bold","fontSize":12.5},"encoding":{"x":{"field":"c","type":"quantitative","scale":{"type":"linear","domain":[0,1,2,8],"range":[503,589,649.5,882],"nice":false,"zero":false},"axis":null},"y":{"field":"r","type":"quantitative","scale":{"type":"linear","domain":[-1,0,1,2,3,10,11,12,13,19,20,21,22,23,30,31,32,33],"range":[520,527,548,567.5,585.5,606.5,629.5,648,684,882,888.5,910.5,929.5,978,1002,1024,1043,1092.5],"nice":false,"zero":false},"axis":null},"text":{"field":"text"}}},
{"data":{"name":"left_bold"},"mark":{"type":"text","color":"#1a1a1a","fontWeight":"bold","fontSize":11.5,"align":"left","dx":5},"encoding":{"x":{"datum":0,"type":"quantitative","scale":{"type":"linear","domain":[0,1,2,8],"range":[503,589,649.5,882],"nice":false,"zero":false},"axis":null},"y":{"field":"r","type":"quantitative","scale":{"type":"linear","domain":[-1,0,1,2,3,10,11,12,13,19,20,21,22,23,30,31,32,33],"range":[520,527,548,567.5,585.5,606.5,629.5,648,684,882,888.5,910.5,929.5,978,1002,1024,1043,1092.5],"nice":false,"zero":false},"axis":null},"text":{"field":"text"}}},
{"data":{"name":"left_reg"},"mark":{"type":"text","color":"#1a1a1a","fontSize":12,"align":"left","dx":5},"encoding":{"x":{"datum":0,"type":"quantitative","scale":{"type":"linear","domain":[0,1,2,8],"range":[503,589,649.5,882],"nice":false,"zero":false},"axis":null},"y":{"field":"r","type":"quantitative","scale":{"type":"linear","domain":[-1,0,1,2,3,10,11,12,13,19,20,21,22,23,30,31,32,33],"range":[520,527,548,567.5,585.5,606.5,629.5,648,684,882,888.5,910.5,929.5,978,1002,1024,1043,1092.5],"nice":false,"zero":false},"axis":null},"text":{"field":"text"}}},
{"data":{"name":"center_vals"},"mark":{"type":"text","color":"#1a1a1a","fontSize":12.5},"encoding":{"x":{"field":"c","type":"quantitative","scale":{"type":"linear","domain":[0,1,2,8],"range":[503,589,649.5,882],"nice":false,"zero":false},"axis":null},"y":{"field":"r","type":"quantitative","scale":{"type":"linear","domain":[-1,0,1,2,3,10,11,12,13,19,20,21,22,23,30,31,32,33],"range":[520,527,548,567.5,585.5,606.5,629.5,648,684,882,888.5,910.5,929.5,978,1002,1024,1043,1092.5],"nice":false,"zero":false},"axis":null},"text":{"field":"text"}}},
{"data":{"name":"lsub"},"mark":{"type":"text","color":"#1a1a1a","fontSize":11.5,"align":"left","dx":-12.5},"encoding":{"x":{"datum":1.5,"type":"quantitative","scale":{"type":"linear","domain":[0,1,2,8],"range":[503,589,649.5,882],"nice":false,"zero":false},"axis":null},"y":{"field":"r","type":"quantitative","scale":{"type":"linear","domain":[-1,0,1,2,3,10,11,12,13,19,20,21,22,23,30,31,32,33],"range":[520,527,548,567.5,585.5,606.5,629.5,648,684,882,888.5,910.5,929.5,978,1002,1024,1043,1092.5],"nice":false,"zero":false},"axis":null},"text":{"value":"L"}}},
{"data":{"name":"lsub"},"mark":{"type":"text","color":"#1a1a1a","fontSize":8,"align":"left","dx":-6,"dy":3},"encoding":{"x":{"datum":1.5,"type":"quantitative","scale":{"type":"linear","domain":[0,1,2,8],"range":[503,589,649.5,882],"nice":false,"zero":false},"axis":null},"y":{"field":"r","type":"quantitative","scale":{"type":"linear","domain":[-1,0,1,2,3,10,11,12,13,19,20,21,22,23,30,31,32,33],"range":[520,527,548,567.5,585.5,606.5,629.5,648,684,882,888.5,910.5,929.5,978,1002,1024,1043,1092.5],"nice":false,"zero":false},"axis":null},"text":{"field":"sub"}}}
]}
]
}
